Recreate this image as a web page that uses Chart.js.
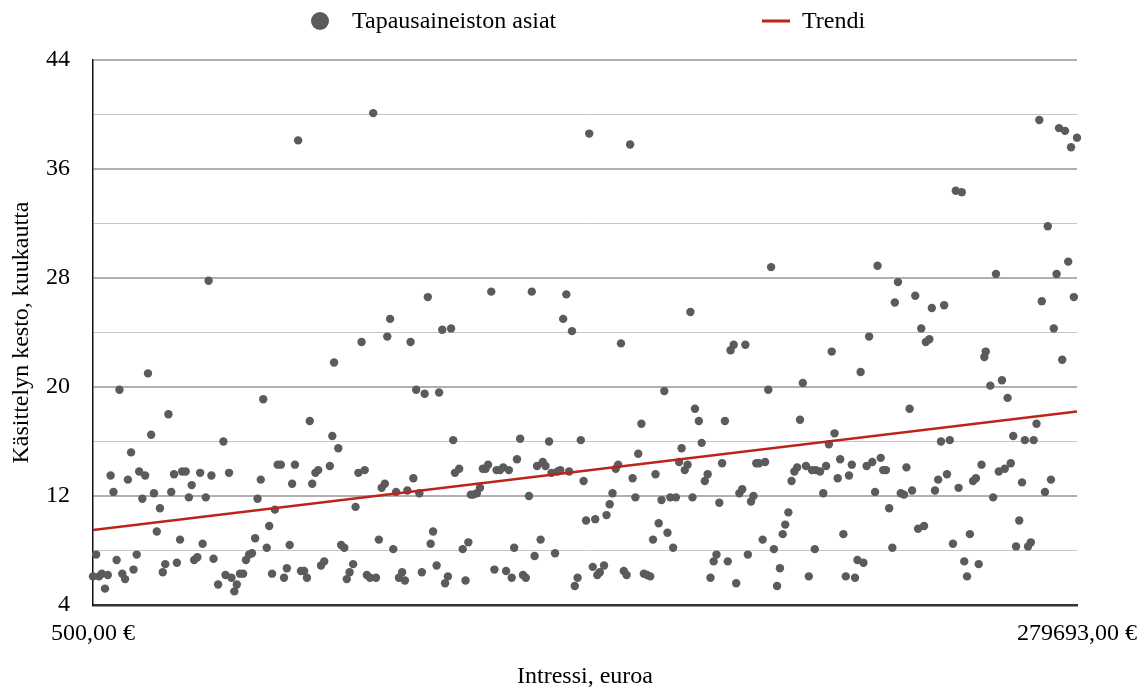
<!DOCTYPE html>
<html>
<head>
<meta charset="utf-8">
<script src="https://cdn.jsdelivr.net/npm/chart.js@4.4.1/dist/chart.umd.min.js"></script>
<style>
  body { margin: 0; background: #fff; }
  canvas { display: block; }
</style>
</head>
<body>
<canvas id="chart" width="1147" height="689"></canvas>
<script>
// Intressi (tuhatta euroa) ja käsittelyn kesto (kuukautta), luettu kuvasta
const interestK = [
    1.4, 0.5, 2.2, 3.0, 4.7, 3.9, 5.5, 6.3, 7.2, 8.0, 8.8, 9.6, 10.4, 11.3, 12.0, 12.9, 13.6, 15.3, 14.5, 16.1, 17.0, 17.8, 18.6, 19.5, 20.3, 21.0, 21.9, 22.7, 23.5, 24.3, 25.2, 25.8, 26.8, 27.7, 28.5, 29.2, 30.1, 30.9, 31.6, 32.5, 33.3, 34.1, 34.7,
    36.0, 37.5, 38.1, 39.1, 39.8, 40.6, 41.3, 42.2, 43.1, 43.9, 44.8, 45.6, 46.5, 47.2, 48.1, 48.8, 49.8, 50.5, 51.3, 52.1, 52.9, 53.8, 54.7, 55.5, 56.3, 57.0, 57.8, 58.7, 59.5, 60.4, 61.2, 62.0, 62.7, 63.6, 64.4, 65.2, 66.1, 67.7, 68.4, 68.9,
    70.1, 70.9, 71.8, 72.5, 73.3, 74.3, 75.0, 75.8, 76.7, 77.6, 78.2, 79.1, 80.0, 80.8, 81.6, 82.4, 83.3, 84.0, 84.8, 85.7, 86.5, 87.3, 88.2, 89.0, 89.7, 90.6, 91.4, 92.2, 93.1, 93.8, 94.6, 95.5, 96.3, 97.0, 98.0, 98.7, 99.6, 100.4, 101.2, 102.1, 102.7, 103.2,
    104.4, 105.4, 106.2, 107.0, 107.7, 108.4, 109.4, 110.3, 111.1, 111.9, 112.6, 113.5, 114.4, 115.0, 116.0, 116.9, 117.7, 118.5, 119.3, 120.0, 120.8, 121.7, 122.5, 123.3, 124.2, 125.0, 125.8, 126.5, 127.5, 128.1, 128.9, 129.9, 130.6, 131.6, 132.3, 133.1, 133.9, 134.8, 135.6, 136.4, 137.2,
    138.0, 138.9, 139.7, 140.4, 141.3, 142.3, 143.0, 143.6, 144.3, 145.5, 146.2, 147.1, 147.9, 148.8, 149.5, 150.3, 151.1, 151.9, 152.9, 153.6, 154.4, 155.2, 156.1, 156.8, 157.7, 158.6, 159.4, 160.1, 161.0, 161.8, 162.6, 163.5, 164.3, 165.1, 165.9, 166.8, 167.5, 168.4, 169.2, 170.0, 170.6, 171.3,
    172.4, 173.2, 174.1, 174.9, 175.7, 176.6, 177.4, 178.2, 179.0, 179.8, 180.6, 181.4, 182.3, 183.0, 183.9, 184.7, 185.6, 186.3, 187.2, 187.9, 188.7, 189.5, 190.5, 191.2, 192.1, 192.9, 193.7, 194.6, 195.4, 196.2, 196.9, 197.8, 198.7, 199.5, 200.3, 201.1, 201.9, 202.8, 203.6, 204.5, 205.3,
    205.6, 206.8, 207.7, 208.5, 209.3, 210.1, 210.9, 211.8, 212.5, 213.4, 214.1, 215.0, 215.8, 216.7, 217.4, 218.3, 219.1, 220.0, 220.7, 221.6, 222.4, 223.1, 224.0, 224.7, 225.5, 226.4, 227.3, 228.0, 228.9, 229.7, 230.6, 231.3, 232.2, 232.9, 233.8, 234.6, 235.5, 236.3, 236.8, 237.8, 238.5, 239.4,
    240.3, 241.1, 242.0, 242.8, 243.6, 244.5, 245.3, 246.1, 247.0, 247.7, 248.5, 249.3, 250.2, 251.0, 251.8, 252.6, 253.4, 253.8, 255.1, 255.9, 256.7, 257.5, 258.4, 259.2, 260.0, 260.9, 261.6, 262.4, 263.3, 264.1, 264.9, 265.8, 266.6, 267.4, 268.2, 269.0, 269.7, 270.6, 271.4, 272.3, 273.1, 273.9, 274.6, 275.5, 276.3, 277.2, 278.0, 278.8, 279.69
];
const durationMonths = [
    7.7, 6.1, 6.1, 6.3, 6.2, 5.2, 13.5, 12.3, 7.3, 19.8, 6.3, 5.9, 13.2, 15.2, 6.6, 7.7, 13.8, 13.5, 11.8, 21.0, 16.5, 12.2, 9.4, 11.1, 6.4, 7.0, 18.0, 12.3, 13.6, 7.1, 8.8, 13.8, 13.8, 11.9, 12.8, 7.3, 7.5, 13.7, 8.5, 11.9, 27.8, 13.5, 7.4,
    5.5, 16.0, 6.2, 13.7, 6.0, 5.0, 5.5, 6.3, 6.3, 7.3, 7.7, 7.8, 8.9, 11.8, 13.2, 19.1, 8.2, 9.8, 6.3, 11.0, 14.3, 14.3, 6.0, 6.7, 8.4, 12.9, 14.3, 38.1, 6.5, 6.5, 6.0, 17.5, 12.9, 13.7, 13.9, 6.9, 7.2, 14.2, 16.4, 21.8,
    15.5, 8.4, 8.2, 5.9, 6.4, 7.0, 11.2, 13.7, 23.3, 13.9, 6.2, 6.0, 40.1, 6.0, 8.8, 12.6, 12.9, 23.7, 25.0, 8.1, 12.3, 6.0, 6.4, 5.8, 12.4, 23.3, 13.3, 19.8, 12.2, 6.4, 19.5, 26.6, 8.5, 9.4, 6.9, 19.6, 24.2, 5.6, 6.1, 24.3, 16.1, 13.7,
    14.0, 8.1, 5.8, 8.6, 12.1, 12.1, 12.2, 12.6, 14.0, 14.0, 14.3, 27.0, 6.6, 13.9, 13.9, 14.1, 6.5, 13.9, 6.0, 8.2, 14.7, 16.2, 6.2, 6.0, 12.0, 27.0, 7.6, 14.2, 8.8, 14.5, 14.2, 16.0, 13.7, 7.8, 13.8, 13.9, 25.0, 26.8, 13.8, 24.1, 5.4,
    6.0, 16.1, 13.1, 10.2, 38.6, 6.8, 10.3, 6.2, 6.4, 6.9, 10.6, 11.4, 12.2, 14.0, 14.3, 23.2, 6.5, 6.2, 37.8, 13.3, 11.9, 15.1, 17.3, 6.3, 6.2, 6.1, 8.8, 13.6, 10.0, 11.7, 19.7, 9.3, 11.9, 8.2, 11.9, 14.5, 15.5, 13.9, 14.3, 25.5, 11.9, 18.4,
    17.5, 15.9, 13.1, 13.6, 6.0, 7.2, 7.7, 11.5, 14.4, 17.5, 7.2, 22.7, 23.1, 5.6, 12.2, 12.5, 23.1, 7.7, 11.6, 12.0, 14.4, 14.4, 8.8, 14.5, 19.8, 28.8, 8.1, 5.4, 6.7, 9.2, 9.9, 10.8, 13.1, 13.8, 14.1, 17.6, 20.3, 14.2, 6.1, 13.9, 8.1,
    13.9, 13.8, 12.2, 14.2, 15.8, 22.6, 16.6, 13.3, 14.7, 9.2, 6.1, 13.5, 14.3, 6.0, 7.3, 21.1, 7.1, 14.2, 23.7, 14.5, 12.3, 28.9, 14.8, 13.9, 13.9, 11.1, 8.2, 26.2, 27.7, 12.2, 12.1, 14.1, 18.4, 12.4, 26.7, 9.6, 24.3, 9.8, 23.3, 23.5, 25.8, 12.4,
    13.2, 16.0, 26.0, 13.6, 16.1, 8.5, 34.4, 12.6, 34.3, 7.2, 6.1, 9.2, 13.1, 13.3, 7.0, 14.3, 22.2, 22.6, 20.1, 11.9, 28.3, 13.8, 20.5, 14.0, 19.2, 14.4, 16.4, 8.3, 10.2, 13.0, 16.1, 8.3, 8.6, 16.1, 17.3, 39.6, 26.3, 12.3, 31.8, 13.2, 24.3, 28.3, 39.0, 22.0, 38.8, 29.2, 37.6, 26.6, 38.3
];

// trendiviiva päätepisteet
const trendX = [500, 279693];
const trendY = [9.5, 18.2];

const seriesNames = ['Tapausaineiston asiat', 'Trendi'];
const xTickValues = [500, 279693];
const xTickLabels = ['500,00 €', '279693,00 €'];
const yTickLabels = [4, 12, 20, 28, 36, 44];

const pointColor = '#5b5b5b';
const trendColor = '#bd2419';
const fontFamily = '"Liberation Serif", "Times New Roman", serif';

Chart.defaults.font.family = fontFamily;
Chart.defaults.font.size = 24;
Chart.defaults.color = '#000';

const caseData = interestK.map((k, i) => ({ x: k * 1000, y: durationMonths[i] }));
const trendData = trendX.map((x, i) => ({ x: x, y: trendY[i] }));

// legenda piirretään itse, jotta välit vastaavat alkuperäistä
const topLegend = {
    id: 'topLegend',
    afterDraw(chart) {
        const ctx = chart.ctx;
        ctx.save();
        ctx.font = '24px ' + fontFamily;
        ctx.textBaseline = 'middle';
        ctx.fillStyle = pointColor;
        ctx.beginPath();
        ctx.arc(320, 21, 9, 0, Math.PI * 2);
        ctx.fill();
        ctx.fillStyle = '#000';
        ctx.fillText(seriesNames[0], 352, 22);
        ctx.strokeStyle = trendColor;
        ctx.lineWidth = 3;
        ctx.beginPath();
        ctx.moveTo(762, 21);
        ctx.lineTo(790, 21);
        ctx.stroke();
        ctx.fillText(seriesNames[1], 802, 22);
        ctx.restore();
    }
};

new Chart(document.getElementById('chart'), {
    type: 'scatter',
    data: {
        datasets: [
            {
                type: 'line',
                label: seriesNames[1],
                data: trendData,
                borderColor: trendColor,
                borderWidth: 2.5,
                pointRadius: 0,
                fill: false,
                order: 0,
            },
            {
                label: seriesNames[0],
                data: caseData,
                backgroundColor: pointColor,
                borderWidth: 0,
                pointRadius: 4.2,
                clip: false,
                order: 1,
            },
        ],
    },
    options: {
        responsive: false,
        animation: false,
        devicePixelRatio: 1,
        layout: { padding: { left: 0, right: 70, top: 60, bottom: 0 } },
        plugins: {
            legend: { display: false },
            tooltip: { enabled: false },
        },
        scales: {
            x: {
                type: 'linear',
                min: xTickValues[0],
                max: xTickValues[1],
                afterBuildTicks: (scale) => {
                    scale.ticks = xTickValues.map(v => ({ value: v }));
                },
                afterFit: (scale) => {
                    scale.height = 84;
                    // reunan tekstit saavat ulottua piirtoalueen yli
                    scale.paddingLeft = 0;
                    scale.paddingRight = 0;
                },
                grid: { display: false, drawTicks: false },
                border: { display: true, color: '#333', width: 2.5 },
                ticks: {
                    autoSkip: false,
                    maxRotation: 0,
                    padding: 14,
                    callback: (value) => xTickLabels[xTickValues.indexOf(value)],
                },
                title: {
                    display: true,
                    text: 'Intressi, euroa',
                    padding: { top: 0, bottom: -2 },
                },
            },
            y: {
                min: 4,
                max: 44,
                afterFit: (scale) => { scale.width = 93; },
                grid: {
                    drawTicks: false,
                    color: (ctx) => yTickLabels.includes(ctx.tick.value) ? '#b0b0b0' : '#c6c6c6',
                    lineWidth: (ctx) => yTickLabels.includes(ctx.tick.value) ? 2 : 1,
                },
                border: { display: true, color: '#111', width: 1.5 },
                ticks: {
                    stepSize: 4,
                    crossAlign: 'near',
                    padding: 23,
                    callback: (value) => yTickLabels.includes(value) ? value : '',
                },
                title: {
                    display: true,
                    text: 'Käsittelyn kesto, kuukautta',
                    padding: { top: 7, bottom: 0 },
                },
            },
        },
    },
    plugins: [topLegend],
});
</script>
</body>
</html>
